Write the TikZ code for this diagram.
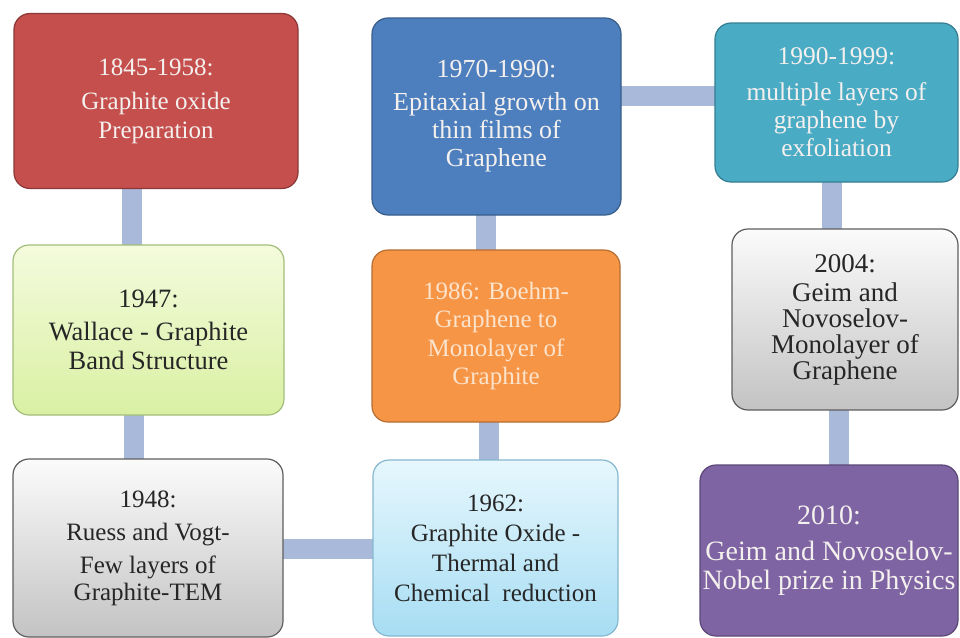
\documentclass[tikz,border=0pt]{standalone}
\usepackage{fontspec}
\setmainfont{Liberation Serif}
\usetikzlibrary{backgrounds}
\definecolor{cRed}{HTML}{C44F4D}
\definecolor{cRedB}{HTML}{8C3836}
\definecolor{cBlue}{HTML}{4D7FBE}
\definecolor{cBlueB}{HTML}{385D8A}
\definecolor{cTeal}{HTML}{4AABC5}
\definecolor{cTealB}{HTML}{357D91}
\definecolor{cOrange}{HTML}{F79546}
\definecolor{cOrangeB}{HTML}{B66D31}
\definecolor{cOrangeT}{HTML}{FBE3CC}
\definecolor{cPurple}{HTML}{7F64A3}
\definecolor{cPurpleB}{HTML}{5C4776}
\definecolor{cGreenT}{HTML}{F4FBDD}
\definecolor{cGreenBt}{HTML}{D9F0A3}
\definecolor{cGreenB}{HTML}{A3BE7A}
\definecolor{cGrayT}{HTML}{FBFBFB}
\definecolor{cGrayBt}{HTML}{C3C3C3}
\definecolor{cGrayB}{HTML}{5E5E5E}
\definecolor{cLBlueT}{HTML}{E6F7FD}
\definecolor{cLBlueBt}{HTML}{A7DDF3}
\definecolor{cLBlueB}{HTML}{86B8CF}
\definecolor{cConn}{HTML}{A8B9DA}
\definecolor{cText}{HTML}{F4F0EE}
\tikzset{
  evbox/.style={rectangle, rounded corners=16pt, line width=1.2pt, align=center,
    inner sep=0pt, font=\fontsize{25}{29}\selectfont},
  conn/.style={line width=20pt, cConn},
}
\begin{document}
\begin{tikzpicture}[x=1pt,y=-1pt]
\useasboundingbox (0,0) rectangle (960,637);
% boxes
\node[evbox, fill=cRed, draw=cRedB, text=cText, minimum width=284pt, minimum height=175pt] (b1) at (156,101)
  {1845-1958:\\[5pt]Graphite oxide\\Preparation};
\node[evbox, fill=cBlue, draw=cBlueB, text=cText, minimum width=249pt, minimum height=197pt, font=\fontsize{26}{28}\selectfont] (b2) at (496.5,116.5)
  {1970-1990:\\[5pt]Epitaxial growth on\\thin films of\\Graphene};
\node[evbox, fill=cTeal, draw=cTealB, text=cText, minimum width=243pt, minimum height=159pt, font=\fontsize{25.5}{28}\selectfont] (b3) at (836.5,102.5)
  {1990-1999:\\[8pt]multiple layers of\\graphene by\\exfoliation};
\node[evbox, top color=cGreenT, bottom color=cGreenBt, draw=cGreenB, text=black!85, minimum width=271pt, minimum height=170pt, font=\fontsize{26.5}{29}\selectfont] (b4) at (148.5,330)
  {1947:\\[4pt]Wallace - Graphite\\Band Structure};
\node[evbox, fill=cOrange, draw=cOrangeB, text=cOrangeT, minimum width=248pt, minimum height=172pt, font=\fontsize{25}{28.5}\selectfont] (b5) at (496,336)
  {1986: Boehm-\\Graphene to\\Monolayer of\\Graphite};
\node[evbox, top color=cGrayT, bottom color=cGrayBt, draw=cGrayB, text=black!85, minimum width=226pt, minimum height=181pt, font=\fontsize{27}{26}\selectfont] (b6) at (845,319.5)
  {2004:\\[3pt]Geim and\\Novoselov-\\Monolayer of\\Graphene};
\node[evbox, top color=cGrayT, bottom color=cGrayBt, draw=cGrayB, text=black!85, minimum width=270pt, minimum height=178pt, font=\fontsize{25}{33}\selectfont] (b7) at (148,548)
  {1948:\\Ruess and Vogt-\\Few layers of\\[-6pt]Graphite-TEM};
\node[evbox, top color=cLBlueT, bottom color=cLBlueBt, draw=cLBlueB, text=black!85, minimum width=245pt, minimum height=176pt, font=\fontsize{25}{30}\selectfont] (b8) at (495.5,548)
  {1962:\\Graphite Oxide -\\Thermal and\\Chemical\ \ reduction};
\node[evbox, fill=cPurple, draw=cPurpleB, text=cText, minimum width=258pt, minimum height=171pt, font=\fontsize{28}{29}\selectfont] (b9) at (829,550.5)
  {2010:\\[7pt]Geim and Novoselov-\\Nobel prize in Physics};
% connectors and background
\begin{scope}[on background layer]
\fill[white] (0,0) rectangle (960,637);
\draw[conn] (b1.center -| 132,0) -- (b4.center -| 132,0);
\draw[conn] (b4.center -| 134,0) -- (b7.center -| 134,0);
\draw[conn] (b7.center |- 0,549) -- (b8.center |- 0,549);
\draw[conn] (b8.center -| 489,0) -- (b5.center -| 489,0);
\draw[conn] (b5.center -| 486,0) -- (b2.center -| 486,0);
\draw[conn] (b2.center |- 0,96) -- (b3.center |- 0,96);
\draw[conn] (b3.center -| 832,0) -- (b6.center -| 832,0);
\draw[conn] (b6.center -| 839,0) -- (b9.center -| 839,0);
\end{scope}
\end{tikzpicture}
\end{document}
